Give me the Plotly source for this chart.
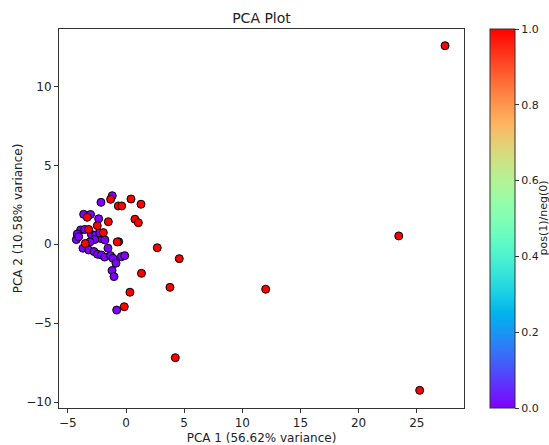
import numpy as np
import plotly.graph_objects as go

# PCA scores (first two components) and class label: 1 = positive, 0 = negative
pc1_neg = [-1.18, -2.15, -3.64, -3.05, -2.35, -3.90, -3.55, -4.19, -4.27, -4.07,
           -2.98, -2.62, -2.18, -2.69, -1.81, -2.26, -0.63, -3.10, -3.70, -3.21,
           -2.75, -2.45, -2.12, -1.83, -1.55, -1.32, -1.12, -0.40, -0.11, -0.86,
           -1.20, -1.03, -0.80]
pc2_neg = [3.08, 2.66, 1.90, 1.89, 1.62, 0.91, 0.94, 0.65, 0.30, 0.48,
           0.63, 0.59, 0.37, 0.30, 0.27, 0.72, 0.16, 0.15, -0.25, -0.36,
           -0.46, -0.63, -0.68, -0.81, -0.25, -0.72, -0.89, -0.79, -0.72, -1.20,
           -1.66, -2.05, -4.17]

pc1_pos = [27.43, 23.45, 12.01, 25.25, 2.69, 4.58, 1.33, 3.78, 0.34, -0.15,
           4.24, -1.32, 0.43, -0.66, -0.37, 1.29, -3.33, -1.52, 0.77, 1.06,
           -2.47, -3.21, -1.95, -0.75, -3.50]
pc2_pos = [12.59, 0.53, -2.85, -9.26, -0.22, -0.91, -1.84, -2.73, -3.04, -3.96,
           -7.19, 2.85, 2.87, 2.43, 2.43, 2.54, 1.71, 1.43, 1.59, 1.37,
           1.18, 0.94, 0.74, 0.15, 0.05]

x_ticks = [-5, 0, 5, 10, 15, 20, 25]
y_ticks = [-10, -5, 0, 5, 10]
cbar_ticks = [0.0, 0.2, 0.4, 0.6, 0.8, 1.0]


def tick_text(v):
    return str(v).replace("-", "\u2212")


pc1 = pc1_neg + pc1_pos
pc2 = pc2_neg + pc2_pos
label = [0] * len(pc1_neg) + [1] * len(pc1_pos)

# matplotlib-style "rainbow" colormap (gnuplot functions 33, 13, 10)
t = np.linspace(0, 1, 21)
r = np.clip(np.abs(2 * t - 0.5), 0, 1)
g = np.clip(np.sin(np.pi * t), 0, 1)
b = np.clip(np.cos(np.pi * t / 2), 0, 1)
rainbow = [[float(v), f"rgb({int(round(rr*255))},{int(round(gg*255))},{int(round(bb*255))})"]
           for v, rr, gg, bb in zip(t, r, g, b)]

font = "DejaVu Sans, Liberation Sans, sans-serif"
W, H = 549, 445
L, R, T, B = 59, 464, 29, 408

fig = go.Figure(
    go.Scatter(
        x=pc1,
        y=pc2,
        mode="markers",
        marker=dict(
            size=8,
            color=label,
            colorscale=rainbow,
            cmin=0,
            cmax=1,
            line=dict(color="black", width=1),
            colorbar=dict(
                x=(490 - L) / (R - L),
                xanchor="left",
                xpad=0,
                y=0,
                yanchor="bottom",
                len=1,
                lenmode="fraction",
                ypad=0,
                thickness=25,
                outlinecolor="#333",
                outlinewidth=1,
                tickvals=cbar_ticks,
                ticktext=[f"{v:.1f}" for v in cbar_ticks],
                ticks="outside",
                ticklen=4,
                tickcolor="#333",
                tickfont=dict(family=font, size=11, color="#222"),
            ),
        ),
        showlegend=False,
        hoverinfo="x+y",
    )
)

axis_common = dict(
    showline=True,
    linecolor="#333",
    linewidth=1,
    mirror=True,
    ticks="outside",
    ticklen=4,
    tickcolor="#333",
    showgrid=False,
    zeroline=False,
    tickfont=dict(family=font, size=12, color="#222"),
)

fig.update_layout(
    width=W,
    height=H,
    margin=dict(l=L, r=W - R, t=T, b=H - B, autoexpand=False),
    paper_bgcolor="white",
    plot_bgcolor="white",
    title=dict(text="PCA Plot", x=(L + R) / 2 / W, xanchor="center",
               y=1 - 18 / H, yanchor="middle",
               font=dict(family=font, size=14, color="#222")),
    xaxis=dict(axis_common, range=[-5.76, 29.06],
               tickvals=x_ticks, ticktext=[tick_text(v) for v in x_ticks],
               title=dict(text="PCA 1 (56.62% variance)", standoff=4,
                          font=dict(family=font, size=12, color="#222"))),
    yaxis=dict(axis_common, range=[-10.38, 13.65],
               tickvals=y_ticks, ticktext=[tick_text(v) for v in y_ticks],
               title=dict(text="PCA 2 (10.58% variance)", standoff=1,
                          font=dict(family=font, size=12, color="#222"))),
    annotations=[
        dict(text="pos(1)/neg(0)", xref="paper", yref="paper",
             x=(543 - L) / (R - L), y=0.5, xanchor="center", yanchor="middle",
             textangle=-90, showarrow=False,
             font=dict(family=font, size=11, color="#222")),
    ],
)

fig.write_html("out.html")
